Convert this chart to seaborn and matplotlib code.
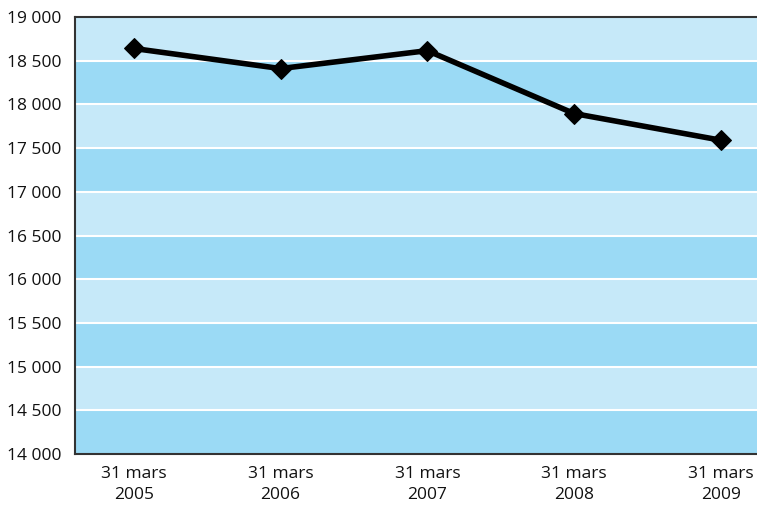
import matplotlib
matplotlib.use("Agg")
import matplotlib.pyplot as plt
import seaborn as sns
import pandas as pd
import numpy as np

categories = ["31 mars\n2005", "31 mars\n2006", "31 mars\n2007", "31 mars\n2008", "31 mars\n2009"]
values = [18640, 18410, 18615, 17895, 17590]
y_ticks = [14000, 14500, 15000, 15500, 16000, 16500, 17000, 17500, 18000, 18500, 19000]

sns.set_theme(style="white")
plt.rcParams["font.family"] = ["Open Sans", "DejaVu Sans"]

df = pd.DataFrame({"x": np.arange(len(categories)), "value": values})

fig = plt.figure(figsize=(7.57, 5.05), dpi=100)
ax = fig.add_axes([75 / 757, 1 - 454 / 505, 682 / 757, 437 / 505])

light = "#C6E9F9"
dark = "#9BDAF5"
for i in range(len(y_ticks) - 1):
    ax.axhspan(y_ticks[i], y_ticks[i + 1], color=dark if i % 2 == 0 else light, lw=0, zorder=0)
for t in y_ticks[1:-1]:
    ax.axhline(t, color="white", lw=1.5, zorder=1)

sns.lineplot(data=df, x="x", y="value", ax=ax, color="black", lw=4,
             marker="D", markersize=10.5, markeredgecolor="black", zorder=3)

ax.set_xlim(-0.4, 4.245)
ax.set_ylim(14000, 19000)
ax.set_yticks(y_ticks)
ax.set_yticklabels([f"{t:,}".replace(",", " ") for t in y_ticks], fontsize=12.5, color="#111111")
ax.set_xticks(df["x"])
ax.set_xticklabels(categories, fontsize=12.5, color="#111111", linespacing=1.35)
ax.set_xlabel("")
ax.set_ylabel("")
ax.tick_params(axis="y", length=0, pad=10)
ax.tick_params(axis="x", length=0, pad=9)

for side in ["left", "bottom", "top"]:
    ax.spines[side].set_visible(True)
    ax.spines[side].set_color("#333333")
    ax.spines[side].set_linewidth(1.5)
ax.spines["right"].set_visible(False)

fig.savefig("out.png", dpi=100)
